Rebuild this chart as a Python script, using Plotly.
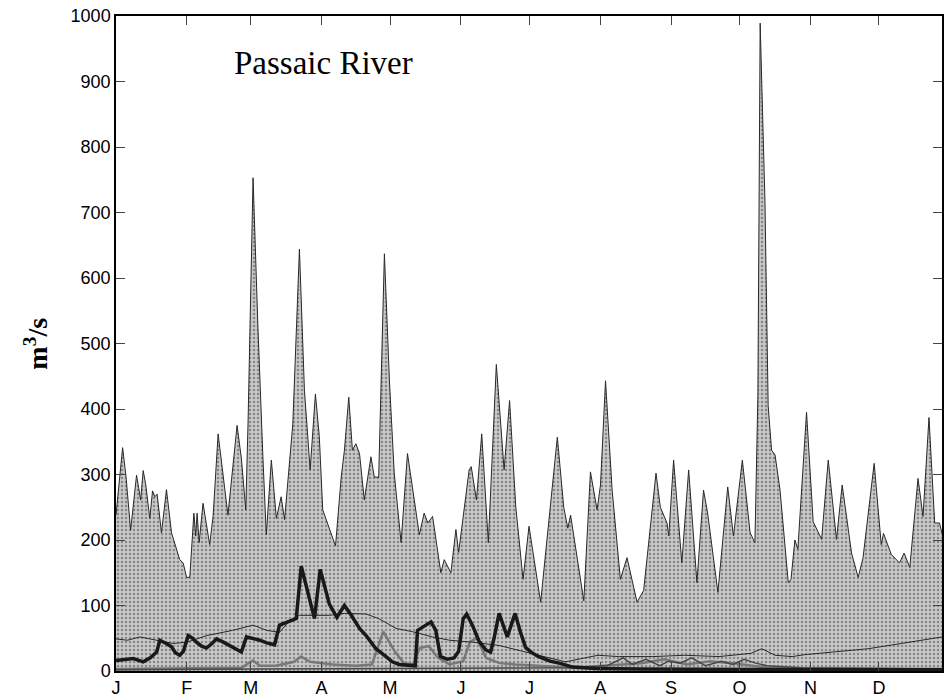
import plotly.graph_objects as go

# ---- data (day of year, 0 = 1 Jan) ----
total_day = [0, 2.9, 4.4, 6.4, 9.0, 10.8, 11.9, 13, 14.8, 16.0, 17, 18, 19.9, 22.1, 24.3, 27.9, 29.4, 30.9, 32.3,
             34.1, 34.9, 35.5, 36.4, 38.1, 41.0, 42.5, 44.7, 49.0, 53.0, 54.9, 56.8, 57.8, 60.0, 62.1, 64.3, 65.8,
             68.0, 70.2, 72.3, 73.8, 77.4, 80.3, 82.5, 85.0, 87.3, 89.0, 90.5, 93.4, 96.1, 98.6, 100, 101.9, 103.5,
             105, 106.6, 108.7, 111.6, 113.1, 115, 117.5, 119.7, 121.8, 124.8, 127.6, 129.8, 132.8, 134.9, 136.5,
             138.6, 142.2, 143.7, 146.6, 148.8, 150, 154.6, 155.5, 157.8, 160.1, 163.0, 166.5, 169.9, 172.3, 175,
             178.2, 180.8, 185.9, 193.2, 196, 197.8, 199, 204.8, 207.7, 210.6, 212.1, 214.3, 217.2, 220.8, 223.7,
             228.1, 231, 236.4, 238.3, 241.2, 242, 244.1, 247.7, 250.7, 254.3, 257.2, 259, 263.5, 267.8, 270.3,
             274.2, 277.6, 279.7, 281, 282, 284.1, 285.5, 287, 288.5, 290.7, 294.3, 295.5, 297.2, 298.5, 302.3,
             305.2, 308.9, 311.8, 315.4, 317.9, 322, 324.9, 327, 331.9, 335, 336, 339.4, 343, 345, 347.5, 351.1,
             353.3, 355.9, 358.4, 360.5, 361.6]
total_val = [238, 341, 296, 215, 299, 261, 306, 285, 233, 275, 266, 270, 211, 277, 211, 170, 165, 143, 143,
             241, 206, 241, 196, 256, 193, 236, 362, 238, 375, 324, 246, 377, 753, 528, 327, 208,
             322, 233, 266, 231, 377, 644, 428, 307, 423, 358, 246, 216, 191, 296, 337, 418, 337,
             347, 332, 261, 327, 296, 296, 637, 443, 302, 196, 332, 281, 208, 241, 226,
             236, 150, 170, 150, 216, 181, 307, 312, 261, 362, 196, 468, 307, 413, 251,
             140, 221, 105, 357, 250, 218, 238, 107, 304, 246, 284, 443, 276, 140, 173,
             105, 123, 302, 250, 226, 206, 322, 165, 307, 135, 276, 241, 120, 281, 206,
             322, 211, 196, 420, 989, 715, 405, 337, 330, 276, 135, 140, 200, 186, 395,
             228, 201, 322, 201, 284, 180, 143, 172, 317, 193, 210, 178, 165, 180, 158, 294,
             236, 387, 226, 226, 210]

thick_day = [0, 4, 7.6, 11.9, 15, 17.8, 19.2, 22, 24.3, 26, 27.9, 29.5, 31.6, 33.5, 35.2, 37.5, 39.6, 42, 44.0,
             47, 49.8, 52, 54.9, 57.1, 60, 62.9, 66, 69.4, 71.6, 75, 78.9, 81.1, 84, 86.9, 89.4, 91.5, 93.4,
             96.7, 100, 103, 106.6, 109.5, 113.8, 118.2, 121, 124, 129, 131, 132, 135, 137.9, 140, 142, 145,
             148, 150, 152, 153.5, 156, 159, 162, 164, 165.5, 167.7, 169.5, 171.3, 173, 174.7, 177, 179.3,
             182, 185, 190, 194, 200, 210, 230, 260, 300, 361.6]
thick_val = [16, 18, 19, 14, 20, 29, 47, 42, 37, 28, 24, 30, 54, 50, 44, 38, 35, 42, 49,
             44, 39, 35, 29, 52, 50, 47, 43, 40, 70, 75, 80, 160, 120, 80, 155, 125, 102,
             82, 100, 85, 65, 54, 34, 22, 14, 10, 8, 8, 62, 68, 75, 62, 22, 18,
             20, 30, 80, 87, 70, 45, 32, 29, 50, 88, 70, 52, 70, 88, 60, 36,
             28, 22, 15, 12, 6, 4, 3, 2, 2, 2]

thin_day = [0, 5, 10.5, 17.8, 25, 31, 39.6, 51, 60, 66, 71.6, 76, 80.3, 87, 93.4, 100, 109.5, 115, 122.6,
            129.8, 138.6, 146, 156, 167.7, 176.4, 185, 196.8, 205, 211, 220, 235, 249, 264, 278, 282.7,
            288.5, 296, 301.6, 314.7, 329.3, 343.8, 361.6]
thin_val = [49, 47, 52, 47, 42, 44, 54, 62, 70, 62, 59, 77, 85, 85, 85, 88, 87, 80, 65,
            60, 52, 47, 44, 39, 32, 24, 14, 20, 24, 22, 22, 24, 22, 27, 34,
            24, 22, 25, 29, 34, 42, 52]

gray_day = [0, 20, 40, 55, 58, 60, 63, 70, 78, 81, 85, 95, 105, 112, 115, 117, 122, 126, 130, 133, 137, 141,
            146, 152, 155, 158, 162, 168, 175, 185, 200, 230, 240, 250, 260, 270, 285, 300, 330, 361.6]
gray_val = [3, 4, 5, 5, 12, 16, 8, 8, 14, 22, 14, 10, 8, 10, 40, 60, 30, 12, 10, 35, 38, 20,
            10, 15, 45, 50, 20, 12, 10, 8, 5, 12, 18, 10, 15, 12, 5, 4, 3, 3]

dark_day = [0, 100, 200, 215, 222, 226, 232, 238, 242, 247, 252, 258, 265, 270, 275, 280, 285, 300, 361.6]
dark_val = [2, 3, 5, 8, 20, 10, 18, 8, 15, 12, 20, 8, 15, 10, 18, 12, 8, 5, 3]

month_days = [0, 31, 59, 90, 120, 151, 181, 212, 243, 273, 304, 334]
month_labels = ["J", "F", "M", "A", "M", "J", "J", "A", "S", "O", "N", "D"]

fig = go.Figure()
fig.add_trace(go.Scatter(x=total_day, y=total_val, mode="lines", fill="tozeroy",
                         fillcolor="rgb(192,192,192)",
                         fillpattern=dict(shape=".", bgcolor="rgb(200,200,200)", fgcolor="rgb(70,70,70)",
                                          size=4, solidity=0.3),
                         line=dict(color="rgb(40,40,40)", width=1)))
fig.add_trace(go.Scatter(x=gray_day, y=gray_val, mode="lines", line=dict(color="rgb(120,120,120)", width=2.5)))
fig.add_trace(go.Scatter(x=dark_day, y=dark_val, mode="lines", line=dict(color="rgb(70,70,70)", width=1.5)))
fig.add_trace(go.Scatter(x=thin_day, y=thin_val, mode="lines", line=dict(color="rgb(40,40,40)", width=1)))
fig.add_trace(go.Scatter(x=thick_day, y=thick_val, mode="lines", line=dict(color="rgb(25,25,25)", width=3.5)))

fig.update_layout(
    width=945, height=699, margin=dict(l=116, r=1, t=16, b=23),
    paper_bgcolor="white", plot_bgcolor="white", showlegend=False,
    font=dict(family="Liberation Sans, Arial", size=18, color="black"),
    xaxis=dict(range=[0, 361.6], tickvals=month_days, ticktext=month_labels, ticks="inside", ticklen=9,
               showline=True, linecolor="black", linewidth=1.5, mirror="ticks", showgrid=False, zeroline=False,
               tickfont=dict(size=18)),
    yaxis=dict(range=[0, 1000], dtick=100, ticks="inside", ticklen=9, showline=True, linecolor="black",
               linewidth=1.5, mirror="ticks", showgrid=False, zeroline=False, tickfont=dict(size=18)),
    annotations=[
        dict(text="Passaic River", xref="paper", yref="paper", x=(232 - 116) / 828, y=1 - (63 - 16) / 660,
             xanchor="left", yanchor="middle", showarrow=False,
             font=dict(family="Liberation Serif, Times New Roman", size=33, color="black")),
        dict(text="<b>m<sup>3</sup>/s</b>", xref="paper", yref="paper", x=(36 - 116) / 828, y=0.5,
             xanchor="center", yanchor="middle", textangle=-90, showarrow=False,
             font=dict(family="Liberation Serif, Times New Roman", size=28, color="black")),
    ],
)
fig.write_html("out.html")
